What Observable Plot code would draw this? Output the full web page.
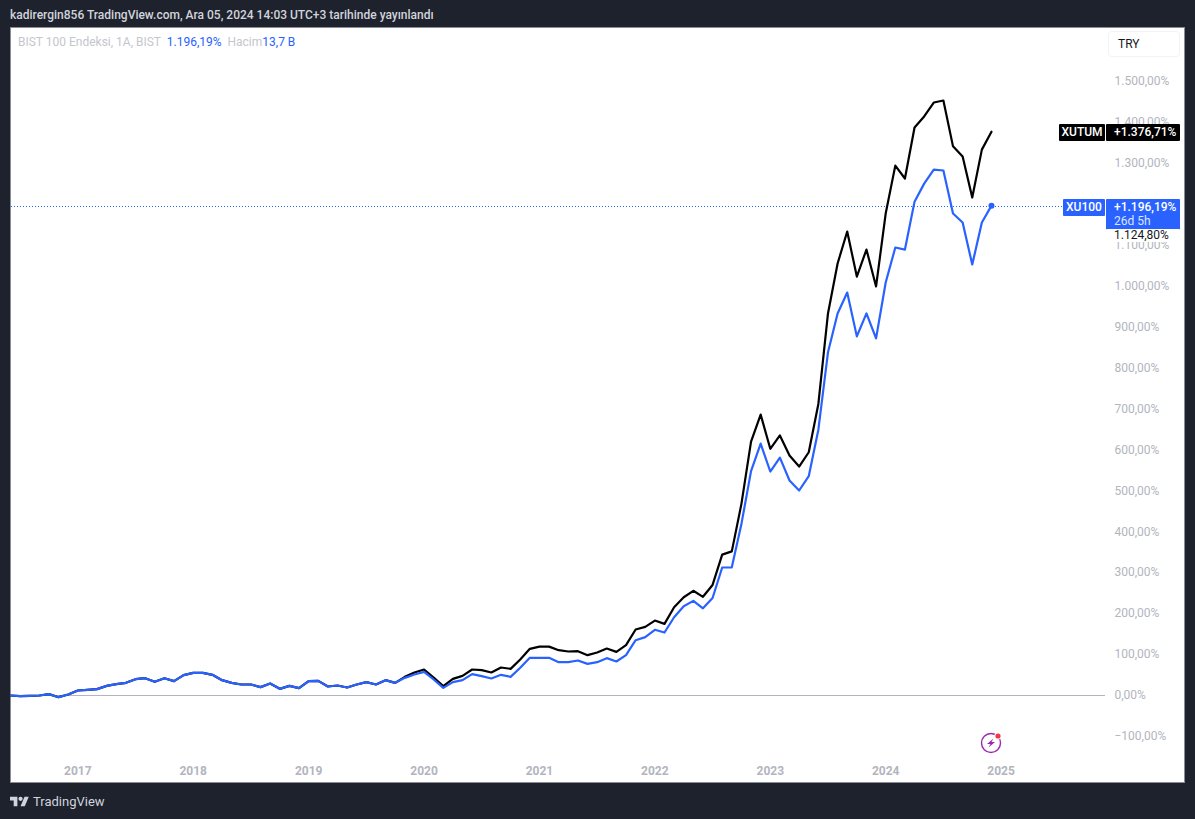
<!DOCTYPE html>
<html lang="tr">
<head>
<meta charset="utf-8">
<script src="https://cdn.jsdelivr.net/npm/d3@7"></script>
<script src="https://cdn.jsdelivr.net/npm/@observablehq/plot@0.6"></script>
<style>
  html, body { margin: 0; padding: 0; background: #1e222d; width: 1195px; height: 819px; overflow: hidden; font-family: Roboto, sans-serif; }
  #header { position: absolute; left: 10px; top: 7px; font-size: 12px; font-weight: 500; color: #d1d4dc; white-space: nowrap; line-height: 16px; }
  #panel { position: absolute; left: 10px; top: 27px; width: 1175px; height: 756px; background: #fff; box-shadow: inset 0 0 0 1px #8a8d96; overflow: hidden; }
  #panel svg.plot-root { position: absolute; left: 0; top: 0; }
  #legend { position: absolute; left: 8px; top: 7px; font-size: 12px; line-height: 16px; color: #c4c6cd; white-space: pre; }
  #legend b { font-weight: 400; color: #2962ff; }
  #try { position: absolute; left: 1098px; top: 4px; width: 72px; height: 26px; box-sizing: border-box; border: 1px solid #f0f3fa; border-radius: 4px; font-size: 12px; line-height: 25px; color: #131722; padding-left: 9px; background: #fff; }
  .tag { position: absolute; color: #fff; font-size: 12px; font-weight: 500; line-height: 17px; border-radius: 1px; white-space: nowrap; }
  #footer { position: absolute; left: 10px; top: 794px; height: 15px; display: flex; align-items: center; gap: 4px; color: #d1d4dc; font-size: 13px; }
</style>
</head>
<body>
<div id="header">kadirergin856 TradingView.com, Ara 05, 2024 14:03 UTC+3 tarihinde yayınlandı</div>
<div id="panel">
  <div id="legend"></div>
  <div id="try">TRY</div>
</div>
<div id="footer">
  <svg width="19" height="15" viewBox="0 2 36 22"><path fill="#d1d4dc" d="M14 22H7V11H0V4h14v18zM28 22h-8l7.5-18h8L28 22z"/><circle fill="#d1d4dc" cx="20" cy="8" r="4"/></svg>
  <span>TradingView</span>
</div>
<script>
const xu100Values = [
  0,-1.6,-0.8,0,3.3,-4.1,2.4,
  12.2,13.8,15.5,23.6,27.7,30.9,39.9,42.3,33.4,42.3,35,49.7,
  55.4,55.4,50.5,37.4,30.9,26.9,26.9,20.4,29.3,16.3,23.6,17.9,
  35,35.8,22,24.4,19.5,26.9,32.6,26.9,37.4,30.9,43.1,51.3,
  57.8,39.1,18.7,32.6,37.4,52.1,47.2,41.5,50.5,45.6,67.6,92,
  92,92,81.4,81.4,85.5,77.3,81.4,91.2,83,98.5,135,142.5,
  160.4,153.8,191,218,231,213,238,312.6,313,419,548,615,
  547,581,525,500.6,535.5,649,838,933,984,877,933,872,
  1008.5,1094,1089,1206,1250,1284,1282,1177,1155,1052.5,1155,1196.19
];
const xutumValues = [
  0,-1.6,-0.8,0,3.3,-4.1,2.4,
  12.2,13.8,15.5,23.6,27.7,30.9,39.9,42.3,33.4,42.3,35,49.7,
  55.4,55.4,50.5,37.4,30.9,26.9,26.9,20.4,29.3,16.3,23.6,17.9,
  35,35.8,22,24.4,19.5,26.9,32.6,26.9,37.4,30.9,45.6,56.2,
  63.5,44,22.8,40.7,48,63.5,61.9,56.2,68.4,65.1,87.9,114,
  119.4,119.4,110.7,107.4,108.3,98.5,105,114.8,106.6,122.9,161.2,167.7,
  183,175,215.6,240,255.7,241,270,344,352,468,620,686,
  602.5,635,586,559,594,712,933,1055,1133,1023,1089,999,
  1177,1294,1262.5,1387,1414,1448,1453,1341,1316,1216,1333,1376.71
];
const yearTicks = ["2017","2018","2019","2020","2021","2022","2023","2024","2025"];
const percentTicks = [-100,0,100,200,300,400,500,600,700,800,900,1000,1100,1200,1300,1400,1500];
const lastXu100 = 1196.19, lastXutum = 1376.71, previousClose = 1124.80;

const months = d3.utcMonth.range(new Date(Date.UTC(2016,5,1)), new Date(Date.UTC(2025,1,1)))
  .map(d => d3.utcFormat("%Y-%m")(d));
const fmt = v => {
  const s = d3.format(",.2f")(Math.abs(v)).replace(/,/g,"#").replace(".",",").replace(/#/g,".");
  return (v < 0 ? "\u2212" : "") + s + "%";
};
const rows = (vals) => vals.map((v,i) => ({month: months[i], v}));
const blue = "#2962ff";

const chart = Plot.plot({
  width: 1175, height: 756,
  marginLeft: 0, marginRight: 71, marginTop: 0, marginBottom: 22,
  style: {background: "transparent", fontFamily: "Roboto, sans-serif", fontSize: "12px", overflow: "visible"},
  x: {type: "point", domain: months, range: [0, 990.6], padding: 0},
  y: {domain: [-100, 1500], range: [708.95, 53.75]},
  marks: [
    Plot.axisY(percentTicks, {anchor: "right", tickSize: 0, tickPadding: 0, tickFormat: fmt, label: null, color: "#b2b5be", fontSize: 12}),
    Plot.axisX(yearTicks.map(y => y + "-01"), {anchor: "bottom", tickSize: 0, tickPadding: 5, tickFormat: d => d.slice(0,4), label: null, color: "#b2b5be", fontWeight: 700, fontSize: 12}),
    Plot.line(rows(xutumValues), {x: "month", y: "v", stroke: "#000", strokeWidth: 2.2, strokeLinejoin: "round"}),
    Plot.line(rows(xu100Values), {x: "month", y: "v", stroke: blue, strokeWidth: 2.2, strokeLinejoin: "round"}),
    Plot.dot([{month: months[102], v: lastXu100}], {x: "month", y: "v", r: 3, fill: blue})
  ]
});
chart.classList.add("plot-root");
const panel = document.getElementById("panel");
panel.insertBefore(chart, panel.firstChild);

const yS = chart.scale("y");
const NS = "http://www.w3.org/2000/svg";
function hline(yVal, x2, stroke) {
  const l = document.createElementNS(NS, "line");
  const y = Math.round(yS.apply(yVal)) + 0.5;
  l.setAttribute("x1", 0); l.setAttribute("x2", x2); l.setAttribute("y1", y); l.setAttribute("y2", y);
  l.setAttribute("stroke", stroke); l.setAttribute("stroke-width", 1);
  l.setAttribute("shape-rendering", "crispEdges");
  chart.insertBefore(l, chart.querySelector("style").nextSibling);
}
hline(0, 1095, "#b2b5be");

// dotted last-value line, placed from the y scale
const dotted = document.createElement("div");
dotted.style.cssText = `position:absolute;left:1px;top:${Math.round(yS.apply(lastXu100)) + 1}px;width:1052px;height:1px;` +
  `background:repeating-linear-gradient(90deg,#2962ff 0,#2962ff 1px,#ffffff 1px,#ffffff 3px);`;
panel.insertBefore(dotted, chart);

function tag(left, top, w, h, bg, html, pad, center) {
  const d = document.createElement("div");
  d.className = "tag";
  d.style.cssText = `left:${left}px;top:${top}px;width:${w - (pad||0)}px;height:${h}px;background:${bg};padding-left:${pad||0}px;` + (center ? "text-align:center;" : "");
  d.innerHTML = html;
  panel.appendChild(d);
}
const yTum = yS.apply(lastXutum), yXu = yS.apply(lastXu100), yPrev = yS.apply(previousClose);
tag(1049, yTum - 7, 46, 17, "#000", "XUTUM", 0, true);
tag(1096, yTum - 7, 74, 17, "#000", "+" + fmt(lastXutum), 8);
tag(1053, yXu - 6, 42, 17, blue, "XU100", 0, true);
tag(1096, yXu - 6, 74, 31, blue, "+" + fmt(lastXu100) + '<br><span style="display:block;margin-top:-3px;font-weight:400;color:#dbe4ff">26d 5h</span>', 8);
const prev = document.createElement("div");
prev.className = "tag";
prev.style.cssText = `left:1096px;top:${yPrev - 5.5}px;width:66px;height:13px;line-height:13px;background:#fff;color:#131722;padding-left:8px;font-weight:400;`;
prev.textContent = fmt(previousClose);
panel.appendChild(prev);

document.getElementById("legend").innerHTML =
  "BIST 100 Endeksi, 1A, BIST  <b>" + fmt(lastXu100) + "</b>  Hacim<b>13,7 B</b>";

const bolt = document.createElementNS(NS, "svg");
bolt.setAttribute("width", 26); bolt.setAttribute("height", 26);
bolt.style.cssText = "position:absolute;left:969px;top:703px;";
bolt.innerHTML = `<circle cx="12" cy="13" r="9.5" fill="none" stroke="#9c27b0" stroke-width="1.4"/>
  <path d="M14.5 8.5 L8 14 L11.5 14 L9.5 17.5 L16 12 L12.5 12 Z" fill="#9c27b0"/>
  <circle cx="19" cy="6" r="3.6" fill="#fff"/><circle cx="19" cy="6" r="2.6" fill="#f23645"/>`;
panel.appendChild(bolt);
</script>
</body>
</html>
